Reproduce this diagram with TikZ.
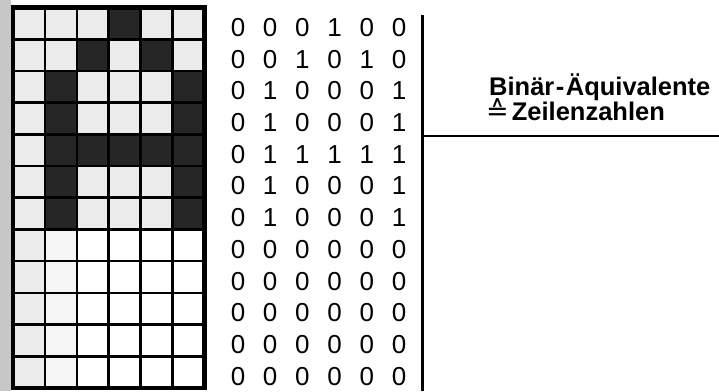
\documentclass[tikz,border=0pt]{standalone}
\usepackage{fontspec}
\setmainfont{Liberation Sans}
\newfontfamily\symfont{DejaVu Sans}
\tikzset{
  darkcell/.style={fill=black!85},
  lightcell/.style={fill=black!8},
  palecell/.style={fill=black!4},
  gridline/.style={line width=2.6pt},
  border/.style={line width=4.5pt},
  digit/.style={font=\fontsize{26}{28}\selectfont, inner sep=0pt, anchor=center},
  label/.style={font=\bfseries\fontsize{25.5}{28}\selectfont, inner sep=0pt, anchor=base west},
  rule/.style={line width=2.6pt}
}
\begin{document}
\begin{tikzpicture}[x=1pt,y=-1pt]
\useasboundingbox (0,0) rectangle (719,391);
\def\gx{13}\def\gy{7.5}\def\cw{31.9}\def\ch{31.7}
% stippled margin
\fill[black!22] (0,0) rectangle (11,391);
% light stipple cells (upper part, column 0 and 1 lower)
\fill[lightcell] (\gx,\gy) rectangle ({\gx+6*\cw},{\gy+7*\ch});
\fill[lightcell] (\gx,{\gy+7*\ch}) rectangle ({\gx+\cw},{\gy+12*\ch});
\fill[palecell] ({\gx+\cw},{\gy+7*\ch}) rectangle ({\gx+2*\cw},{\gy+12*\ch});
% dark cells (letter A)
\foreach \c/\r in {3/0,2/1,4/1,1/2,5/2,1/3,5/3,1/4,2/4,3/4,4/4,5/4,1/5,5/5,1/6,5/6}
  \fill[darkcell] ({\gx+\c*\cw},{\gy+\r*\ch}) rectangle ({\gx+(\c+1)*\cw},{\gy+(\r+1)*\ch});
% grid lines
\foreach \i in {1,...,5}
  \draw[gridline] ({\gx+\i*\cw},\gy) -- ({\gx+\i*\cw},{\gy+12*\ch});
\foreach \j in {1,...,11}
  \draw[gridline] (\gx,{\gy+\j*\ch}) -- ({\gx+6*\cw},{\gy+\j*\ch});
\draw[border] (\gx,\gy) rectangle ({\gx+6*\cw},{\gy+12*\ch});
% binary digits
\foreach \r/\row in {0/{0,0,0,1,0,0},1/{0,0,1,0,1,0},2/{0,1,0,0,0,1},3/{0,1,0,0,0,1},
  4/{0,1,1,1,1,1},5/{0,1,0,0,0,1},6/{0,1,0,0,0,1},7/{0,0,0,0,0,0},8/{0,0,0,0,0,0},
  9/{0,0,0,0,0,0},10/{0,0,0,0,0,0},11/{0,0,0,0,0,0}}
  \foreach \v [count=\c from 0] in \row
    \node[digit] (d-\r-\c) at ({238+\c*32.2},{27.5+\r*31.7}) {\v};
% rules
\coordinate (vtop) at (422.5,15);
\coordinate (vbot) at (422.5,391);
\coordinate (hl) at (422.5,136);
\coordinate (hr) at (719,136);
\draw[rule, line width=3pt] (vtop) -- (vbot);
\draw[rule, line width=2.2pt] (hl) -- (hr);
% label
\node[label] (lab1) at (489,95) {Binär\kern1.5pt-\kern1.5pt Äquivalente};
\node[label] (lab2) at (486,120.5) {{\symfont\mdseries\fontsize{27}{28}\selectfont ≙}\kern3pt Zeilenzahlen};
\end{tikzpicture}
\end{document}
